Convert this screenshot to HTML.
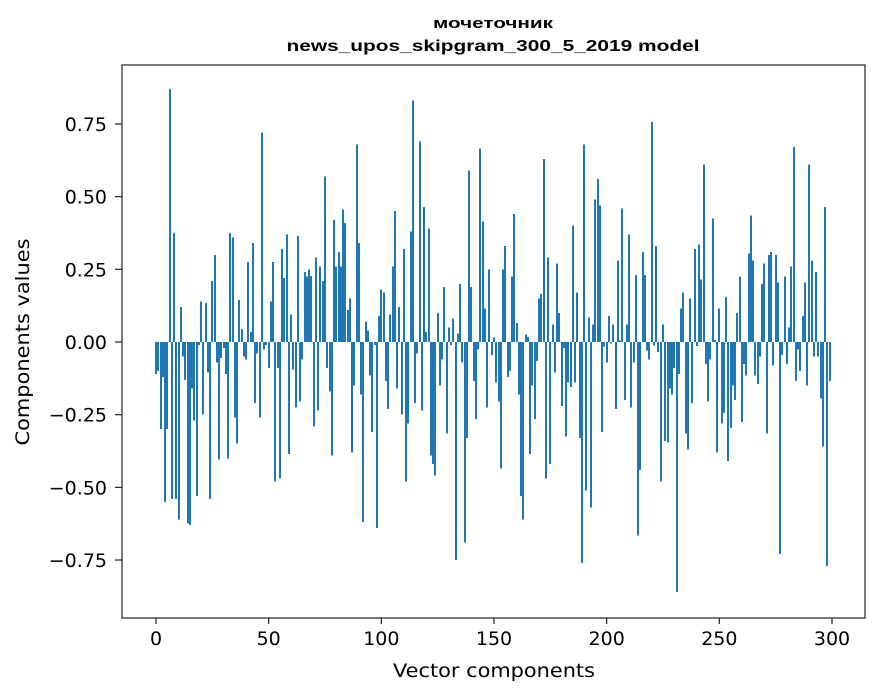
<!DOCTYPE html>
<html><head><meta charset="utf-8"><style>
body{margin:0;background:#fff;}
svg{display:block;font-family:"DejaVu Sans","Liberation Sans",sans-serif;}
</style></head><body>
<svg id="chart" width="880" height="696" viewBox="0 0 880 696">
<text x="493" y="28" text-anchor="middle" font-size="15" font-weight="bold" textLength="120" lengthAdjust="spacingAndGlyphs" font-family="Liberation Sans, sans-serif">мочеточник</text>
<text x="493" y="51" text-anchor="middle" font-size="16" font-weight="bold" textLength="413" lengthAdjust="spacingAndGlyphs" font-family="Liberation Sans, sans-serif">news_upos_skipgram_300_5_2019 model</text>
<g id="bars" shape-rendering="crispEdges"></g>
<g id="axes"></g>
<rect x="122" y="65" width="743" height="553" fill="none" stroke="#222" stroke-width="1.2"/>
<text x="494" y="677" text-anchor="middle" font-size="19" textLength="202" lengthAdjust="spacingAndGlyphs">Vector components</text>
<text transform="translate(29,342) rotate(-90)" text-anchor="middle" font-size="19" textLength="207" lengthAdjust="spacingAndGlyphs">Components values</text>
</svg>
<script>
const values = [
-0.11,-0.10,-0.30,-0.12,-0.55,-0.30,0.87,-0.54,0.375,-0.54,
-0.61,0.12,-0.05,-0.13,-0.625,-0.63,-0.16,-0.27,-0.53,-0.01,
0.14,-0.25,0.135,-0.105,-0.54,0.21,0.30,-0.07,-0.405,-0.055,
-0.02,-0.11,-0.40,0.375,0.36,-0.26,-0.35,0.145,0.045,-0.05,
-0.06,0.275,0.035,0.34,-0.21,-0.04,-0.26,0.72,-0.025,-0.01,
-0.09,0.14,0.275,-0.48,-0.09,-0.47,0.32,0.22,0.37,-0.385,
0.095,-0.095,-0.225,0.365,-0.205,-0.06,0.24,0.225,0.25,0.227,
-0.29,0.29,-0.235,0.26,0.21,0.57,-0.09,-0.17,-0.39,0.42,
0.26,0.31,0.26,0.455,0.41,0.11,0.15,-0.38,-0.15,0.68,
0.34,-0.18,-0.62,0.07,0.04,-0.115,-0.31,-0.01,-0.64,0.09,
0.18,0.17,-0.135,-0.23,0.095,0.26,0.45,-0.16,0.12,-0.25,
0.32,-0.48,-0.28,0.38,0.83,-0.21,-0.04,0.69,-0.235,0.465,
0.035,0.39,-0.39,-0.42,-0.46,0.10,-0.15,-0.06,0.19,-0.315,
0.05,-0.01,0.08,-0.75,0.03,0.20,-0.07,-0.69,-0.33,0.59,
0.19,-0.135,-0.265,-0.025,0.665,0.415,0.115,-0.225,0.25,-0.045,
0.015,-0.14,-0.205,-0.435,0.25,0.33,-0.12,-0.10,0.225,0.44,
0.065,-0.18,-0.53,-0.61,0.025,0.017,-0.385,-0.15,-0.265,-0.065,
0.15,0.165,0.63,-0.47,0.29,-0.42,0.06,-0.105,0.27,0.10,
-0.22,-0.02,-0.325,-0.14,-0.155,0.40,-0.14,0.17,-0.33,-0.76,
0.68,-0.51,0.085,-0.57,0.06,0.49,0.56,0.47,-0.31,-0.015,
-0.07,0.09,-0.005,0.06,-0.23,0.28,0.005,0.46,-0.20,0.06,
0.37,-0.225,-0.07,0.23,-0.665,-0.44,0.31,0.23,-0.03,-0.06,
0.757,-0.012,0.33,-0.035,-0.48,0.06,-0.34,-0.345,-0.16,-0.18,
-0.09,-0.86,-0.11,0.115,0.17,-0.315,-0.37,0.15,-0.21,0.32,
-0.013,0.335,0.215,0.61,-0.075,-0.205,-0.06,0.425,0.007,-0.38,
0.115,-0.28,-0.245,0.155,-0.41,-0.295,-0.15,-0.20,0.10,0.225,
-0.275,-0.075,-0.115,0.305,0.435,0.28,-0.115,-0.145,-0.05,0.20,
0.27,-0.315,0.30,0.31,-0.08,0.30,0.205,-0.73,-0.045,0.225,
-0.075,0.05,0.26,0.67,-0.135,-0.025,-0.10,0.09,0.205,-0.15,
0.61,0.28,-0.05,0.24,-0.05,-0.195,-0.36,0.465,-0.77,-0.135
];
const xTicks = [0,50,100,150,200,250,300];
const yTicks = [-0.75,-0.50,-0.25,0.00,0.25,0.50,0.75];
const yTickLabels = ["\u22120.75","\u22120.50","\u22120.25","0.00","0.25","0.50","0.75"];

const NS = "http://www.w3.org/2000/svg";
const xS = v => 156 + v * (676/300);
const yS = v => 342 - v * 290.7;
const barsG = document.getElementById('bars');
values.forEach((v, i) => {
  const r = document.createElementNS(NS, 'rect');
  const w = 2;
  r.setAttribute('x', Math.round(xS(i) - w/2));
  r.setAttribute('width', w);
  r.setAttribute('y', Math.min(yS(v), yS(0)));
  r.setAttribute('height', Math.max(1, Math.abs(yS(v) - yS(0))));
  r.setAttribute('fill', '#1f77b4');
  
  
  barsG.appendChild(r);
});
const axG = document.getElementById('axes');
xTicks.forEach(t => {
  const l = document.createElementNS(NS, 'line');
  l.setAttribute('x1', xS(t)); l.setAttribute('x2', xS(t));
  l.setAttribute('y1', 618); l.setAttribute('y2', 624);
  l.setAttribute('stroke', '#222');
  l.setAttribute('stroke-width', '1.2');
  
  
  axG.appendChild(l);
  const tx = document.createElementNS(NS, 'text');
  tx.setAttribute('x', xS(t)); tx.setAttribute('y', 645);
  tx.setAttribute('text-anchor', 'middle'); tx.setAttribute('font-size', '19');
  tx.textContent = t;
  
  
  axG.appendChild(tx);
});
yTicks.forEach((t, k) => {
  const l = document.createElementNS(NS, 'line');
  l.setAttribute('x1', 115); l.setAttribute('x2', 122);
  l.setAttribute('y1', yS(t)); l.setAttribute('y2', yS(t));
  l.setAttribute('stroke', '#222');
  l.setAttribute('stroke-width', '1.2');
  
  
  axG.appendChild(l);
  const tx = document.createElementNS(NS, 'text');
  tx.setAttribute('x', 107); tx.setAttribute('y', yS(t) + 7);
  tx.setAttribute('text-anchor', 'end'); tx.setAttribute('font-size', '19');
  tx.textContent = yTickLabels[k];
  
  
  axG.appendChild(tx);
});
</script>
</body></html>
